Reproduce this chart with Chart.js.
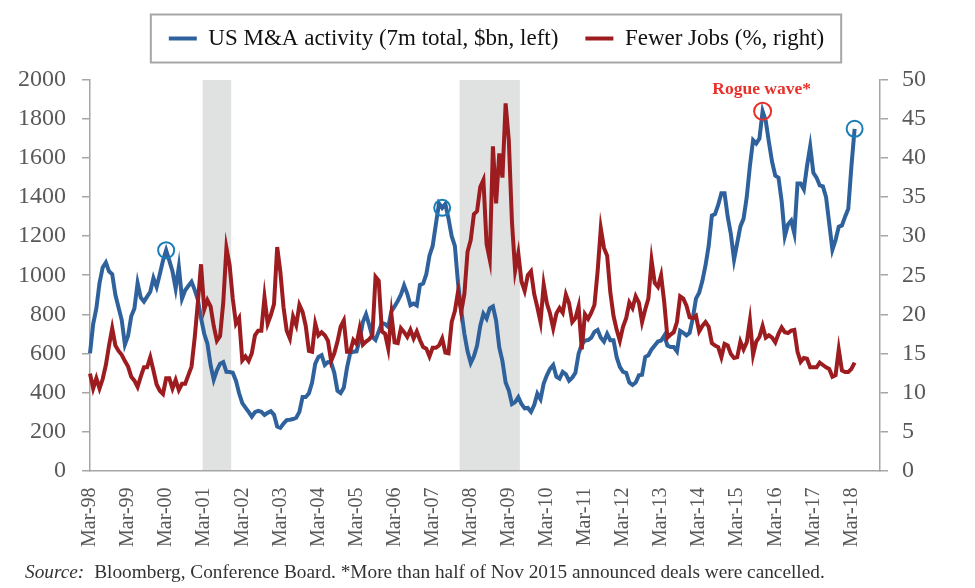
<!DOCTYPE html>
<html>
<head>
<meta charset="utf-8">
<script src="https://cdn.jsdelivr.net/npm/chart.js@4.4.1/dist/chart.umd.min.js"></script>
<style>
  html, body { margin: 0; padding: 0; background: #ffffff; }
  #wrap { width: 975px; height: 588px; position: relative; }
</style>
</head>
<body>
<div id="wrap"><canvas id="chart" width="975" height="588"></canvas></div>
<script>
const SERIF = '"Liberation Serif", "Times New Roman", Times, serif';

// ---- categories: months from Mar-98 (axis runs a little past the data) ----
const MONTH_NAMES = ['Jan','Feb','Mar','Apr','May','Jun','Jul','Aug','Sep','Oct','Nov','Dec'];
const monthLabels = [];
for (let k = 0; k < 250; k++) {
  const m = (2 + k) % 12;
  const y = 1998 + Math.floor((2 + k) / 12);
  monthLabels.push(MONTH_NAMES[m] + '-' + String(y % 100).padStart(2, '0'));
}

// ---- tick labels shown on the x axis ----
const tickLabels = ['Mar-98','Mar-99','Mar-00','Mar-01','Mar-02','Mar-03','Mar-04','Mar-05','Mar-06','Mar-07',
  'Mar-08','Mar-09','Mar-10','Mar-11','Mar-12','Mar-13','Mar-14','Mar-15','Mar-16','Mar-17','Mar-18'];

// ---- series: US M&A activity (7m total, $bn, left axis), Mar-98 .. Apr-18 ----
const maActivity = [
  600, 750, 830, 960,1040,1065,1020,1005, 900, 835, 770, 645,
  690, 790, 830, 960, 885, 865, 890, 915, 985, 940,1005,1075,
 1128,1075,1020, 932,1043, 880, 923, 945, 966, 925, 875, 780,
  700, 650, 540, 465, 513, 547, 555, 505, 504, 500, 460, 395,
  345, 322, 300, 275, 299, 305, 300, 284, 295, 303, 285, 225,
  218, 240, 258, 260, 263, 270, 300, 376, 376, 395, 450, 547,
  581, 590, 540, 555, 553, 500, 408, 396, 425, 525, 600, 608,
  610, 670, 760, 800, 745, 684, 668, 712, 755, 750, 735, 815,
  840, 868, 900, 948, 905, 846, 855, 845, 950, 957,1005,1100,
 1150,1260,1368,1345,1365,1290,1200,1150, 960, 820, 700, 610,
  550, 585, 640, 740, 803, 778, 830, 840, 768, 630, 560, 450,
  410, 340, 350, 375, 340, 318, 320, 300, 335, 393, 365, 445,
  487, 520, 540, 480, 470, 505, 492, 460, 475, 500, 598, 645,
  665, 668, 680, 710, 720, 680, 660, 700, 667, 667, 580, 530,
  505, 500, 450, 438, 450, 487, 490, 581, 590, 620, 640, 660,
  665, 690, 640, 632, 632, 610, 715, 705, 692, 705, 780, 880,
  910, 970,1050,1150,1305,1313,1360,1420,1420,1300,1210,1080,
 1165,1250,1290,1400,1560,1692,1675,1700,1840,1790,1680,1580,
 1510,1500,1380,1200,1260,1280,1214,1470,1470,1440,1560,1660,
 1525,1500,1460,1455,1400,1265,1130,1180,1248,1255,1300,1340,
 1560,1750
];

// ---- series: Fewer Jobs (%, right axis), Mar-98 .. Apr-18 ----
const fewerJobs = [
 12.4,10.5,11.8,10.5,11.7,13.5,16.0,18.2,16.0,15.3,14.8,14.0,
 13.3,12.0,11.5,10.7,12.0,13.2,13.2,14.5,12.8,11.0,10.2, 9.8,
 11.8,11.8,10.5,11.6,10.3,11.1,11.1,12.2,13.3,17.0,21.5,26.4,
 20.6,21.8,21.0,18.5,16.6,17.2,21.5,28.5,26.3,22.0,18.8,19.5,
 14.1,14.6,14.0,15.0,17.3,17.9,17.9,22.2,18.8,19.9,21.3,28.6,
 25.4,20.9,17.9,16.9,19.7,18.6,21.2,20.3,18.5,15.3,15.2,18.8,
 17.3,17.7,17.3,16.6,14.0,15.0,16.5,18.4,19.2,15.2,15.2,16.7,
 16.2,18.2,16.1,16.5,16.8,17.3,24.8,24.3,17.8,17.5,15.6,20.0,
 16.4,16.3,18.2,17.7,17.1,18.0,16.9,17.8,16.7,15.8,15.6,14.6,
 15.7,15.7,16.0,16.9,15.1,15.0,19.0,20.4,22.9,20.3,22.6,28.0,
 29.5,32.8,33.2,36.3,37.2,29.0,27.0,41.5,34.2,40.6,37.5,47.0,
 42.3,31.8,25.6,27.8,24.2,23.0,25.0,25.5,22.6,20.9,19.0,23.8,
 21.4,20.1,18.2,20.1,20.8,20.2,22.5,21.4,19.0,19.5,21.0,15.5,
 20.0,19.4,20.2,21.2,25.5,31.0,28.5,27.5,22.8,19.8,18.0,16.6,
 18.4,19.5,21.5,20.8,22.3,21.5,19.0,20.6,22.0,26.9,24.0,23.5,
 25.0,21.5,17.0,17.4,17.7,19.0,22.3,22.0,21.1,19.6,19.5,19.8,
 17.8,18.5,19.0,18.4,16.3,16.0,15.8,14.5,16.2,16.0,14.9,14.4,
 14.5,16.5,15.5,16.4,19.2,14.8,16.5,17.1,18.5,17.0,17.3,17.0,
 16.4,17.5,18.3,17.7,17.6,17.9,18.0,15.2,13.9,14.4,14.3,13.2,
 13.2,13.2,13.8,13.5,13.2,13.0,12.0,12.2,15.5,12.8,12.6,12.6,
 13.0,13.8
];

// ---- annotations ----
const recessions = [['Mar-01', 'Nov-01'], ['Dec-07', 'Jun-09']];
const blueCircleMonths = ['Mar-00', 'Jun-07', 'Apr-18'];
const rogueMonth = 'Nov-15';
const rogueText = 'Rogue wave*';
const sourceLabel = 'Source:';
const sourceText = 'Bloomberg, Conference Board. *More than half of Nov 2015 announced deals were cancelled.';

const BLUE = '#2f629c';
const RED = '#9c1c20';
const AXIS = '#a6a6a6';
const TICK_TEXT = '#595959';

const blueCircleData = monthLabels.map((m, i) => blueCircleMonths.includes(m) ? maActivity[i] : null);
const rogueData = monthLabels.map((m, i) => m === rogueMonth ? maActivity[i] : null);

const legendSizePlugin = {
  id: 'legendSize',
  beforeInit(chart) {
    const orig = chart.legend.fit;
    chart.legend.fit = function () { orig.call(this); this.height = 80; };
  }
};

const bandsPlugin = {
  id: 'bands',
  beforeDraw(chart) {
    const { ctx, chartArea, scales: { x } } = chart;
    const half = (x.getPixelForValue(1) - x.getPixelForValue(0)) / 2;
    ctx.save();
    ctx.fillStyle = '#e0e2e2';
    recessions.forEach(([a, b]) => {
      const x0 = x.getPixelForValue(monthLabels.indexOf(a)) - half;
      const x1 = x.getPixelForValue(monthLabels.indexOf(b)) + half;
      ctx.fillRect(x0, chartArea.top, x1 - x0, chartArea.bottom - chartArea.top);
    });
    ctx.restore();
  }
};

const annotationPlugin = {
  id: 'annotations',
  afterDatasetsDraw(chart) {
    const { ctx } = chart;
    const meta = chart.getDatasetMeta(3);
    const el = meta.data[monthLabels.indexOf(rogueMonth)];
    if (el) {
      ctx.save();
      ctx.font = 'bold 17.5px ' + SERIF;
      ctx.fillStyle = '#e8312b';
      ctx.textAlign = 'center';
      ctx.textBaseline = 'middle';
      ctx.fillText(rogueText, el.x - 1, el.y - 22);
      ctx.restore();
    }
  },
  afterDraw(chart) {
    const { ctx } = chart;
    // legend frame
    const hb = chart.legend.legendHitBoxes;
    if (hb && hb.length) {
      const l = hb[0].left - 18;
      const last = hb[hb.length - 1];
      const r = last.left + last.width + 17;
      const cy = hb[0].top + hb[0].height / 2;
      ctx.save();
      ctx.strokeStyle = AXIS;
      ctx.lineWidth = 2;
      ctx.strokeRect(l, cy - 24, r - l, 48);
      ctx.restore();
    }
    // source line
    ctx.save();
    ctx.fillStyle = '#333333';
    ctx.textBaseline = 'alphabetic';
    ctx.font = 'italic 19.3px ' + SERIF;
    ctx.fillText(sourceLabel, 25, 578);
    const w = ctx.measureText(sourceLabel).width;
    ctx.font = '19.3px ' + SERIF;
    ctx.fillText(sourceText, 25 + w + 10, 578);
    ctx.restore();
  }
};

new Chart(document.getElementById('chart'), {
  type: 'line',
  data: {
    labels: monthLabels,
    datasets: [
      {
        label: 'US M&A activity (7m total, $bn, left)',
        data: maActivity,
        borderColor: BLUE,
        backgroundColor: BLUE,
        borderWidth: 4,
        pointRadius: 0,
        tension: 0,
        yAxisID: 'y',
        order: 2
      },
      {
        label: 'Fewer Jobs (%, right)',
        data: fewerJobs,
        borderColor: RED,
        backgroundColor: RED,
        borderWidth: 4,
        pointRadius: 0,
        tension: 0,
        yAxisID: 'y1',
        order: 1
      },
      {
        label: 'marks',
        data: blueCircleData,
        showLine: false,
        pointRadius: 8,
        pointHoverRadius: 8,
        pointBorderWidth: 2,
        pointBorderColor: '#1a7db5',
        pointBackgroundColor: 'rgba(0,0,0,0)',
        yAxisID: 'y',
        order: 0
      },
      {
        label: 'rogue',
        data: rogueData,
        showLine: false,
        pointRadius: 8.5,
        pointHoverRadius: 8.5,
        pointBorderWidth: 2,
        pointBorderColor: '#e8312b',
        pointBackgroundColor: 'rgba(0,0,0,0)',
        yAxisID: 'y',
        order: 0
      }
    ]
  },
  options: {
    responsive: false,
    animation: false,
    spanGaps: false,
    layout: { padding: { left: 18, right: 0, top: 0, bottom: 24 } },
    plugins: {
      tooltip: { enabled: false },
      legend: {
        position: 'top',
        align: 'center',
        labels: {
          font: { family: SERIF, size: 23 },
          color: '#111111',
          boxWidth: 28,
          boxHeight: 4,
          padding: 27,
          filter: (item) => item.datasetIndex < 2,
          sort: (a, b) => a.datasetIndex - b.datasetIndex,
          generateLabels: (chart) => Chart.defaults.plugins.legend.labels.generateLabels(chart)
            .map(it => Object.assign({}, it, { lineWidth: 0, fillStyle: it.strokeStyle }))
        }
      }
    },
    scales: {
      x: {
        type: 'category',
        offset: false,
        grid: { display: false, drawTicks: false },
        border: { display: true, color: AXIS, width: 1.5 },
        ticks: {
          autoSkip: false,
          maxRotation: 90,
          minRotation: 90,
          padding: 17,
          color: TICK_TEXT,
          font: { family: SERIF, size: 20 },
          callback: function (v, i) {
            const l = monthLabels[i];
            return tickLabels.includes(l) ? l : null;
          }
        }
      },
      y: {
        position: 'left',
        min: 0,
        max: 2000,
        ticks: {
          stepSize: 200,
          padding: 16,
          color: TICK_TEXT,
          font: { family: SERIF, size: 24 },
          callback: (v) => String(v)
        },
        grid: { drawOnChartArea: false, drawTicks: true, tickLength: 8, color: AXIS, lineWidth: 1.5 },
        border: { display: true, color: AXIS, width: 1.5 },
        afterFit: (s) => { s.width = 72; }
      },
      y1: {
        position: 'right',
        min: 0,
        max: 50,
        ticks: {
          stepSize: 5,
          padding: 14,
          color: TICK_TEXT,
          font: { family: SERIF, size: 24 },
          callback: (v) => String(v)
        },
        grid: { drawOnChartArea: false, drawTicks: true, tickLength: 8, color: AXIS, lineWidth: 1.5 },
        border: { display: true, color: AXIS, width: 1.5 },
        afterFit: (s) => { s.width = 95; }
      }
    }
  },
  plugins: [legendSizePlugin, bandsPlugin, annotationPlugin]
});
</script>
</body>
</html>
